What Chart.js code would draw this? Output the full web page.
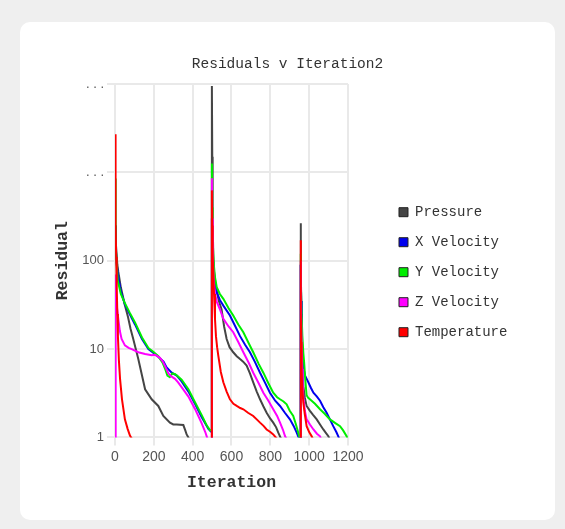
<!DOCTYPE html>
<html><head><meta charset="utf-8">
<script src="https://cdn.jsdelivr.net/npm/chart.js@4.4.1/dist/chart.umd.min.js"></script>
<style>
html,body{margin:0;padding:0;background:#efefef;width:565px;height:529px;overflow:hidden}
#card{position:absolute;left:20px;top:22px;width:535px;height:498px;background:#fff;border-radius:10px}
canvas{display:block}
</style></head><body>
<div id="card"><canvas id="c" width="535" height="498"></canvas></div>
<script>
// ---- data ----
const chartTitle = 'Residuals v Iteration2';
const xTitle = 'Iteration';
const yTitle = 'Residual';
const seriesNames = ['Pressure', 'X Velocity', 'Y Velocity', 'Z Velocity', 'Temperature'];
const seriesColors = ['#454545', '#0000ee', '#00ee00', '#ff00ff', '#ff0000'];
const xTickValues = [0, 200, 400, 600, 800, 1000, 1200];
const xTickLabels = ['0', '200', '400', '600', '800', '1000', '1200'];
const yTickValues = [1, 10, 100, 1000, 10000];
const yTickLabels = ['1', '10', '100', '. . .', '. . .'];

// [iteration, residual]
const pressure = [
  [0,250],[5,150],[12,90],[17,75],[30,50],[50,32],[67,23],[80,17],[94,13],[120,7.7],[155,3.5],[189,2.7],[223,2.27],[249,1.75],[283,1.47],[300,1.4],[318,1.4],[352,1.38],[362,1.2],[369,1.08],[378,1.0],[390,0.85],[498,0.5],
  [499,9500],[501,1500],[503,300],[506,120],[510,75],[520,50],[535,35],[549,28],[562,18],[575,13],[590,10.5],[609,9.2],[627,8.3],[644,7.7],[660,7.2],[678,6.5],[695,5.3],[712,4.2],[730,3.3],[747,2.7],[764,2.25],[781,1.9],[798,1.65],[815,1.47],[830,1.3],[841,1.13],[855,0.97],[870,0.8],[954,0.5],
  [956,265],[958,80],[960,25],[963,10],[966,5.5],[970,3.8],[978,2.8],[987,2.27],[1004,2.0],[1020,1.8],[1039,1.6],[1056,1.4],[1073,1.23],[1087,1.12],[1099,1.03],[1106,0.95],[1115,0.9]
];
const xVelocity = [
  [0,250],[3,150],[8,95],[15,70],[30,45],[51,32],[75,25],[103,19],[139,13],[172,10],[200,9],[223,8.2],[250,7.2],[266,6.2],[292,5.4],[318,5.0],[343,4.3],[378,3.3],[412,2.4],[446,1.7],[481,1.25],[497,1.15],
  [499,300],[502,150],[506,90],[512,62],[524,44],[540,36],[558,31],[592,24],[620,18],[644,14],[670,11.2],[695,9.2],[720,7.2],[747,5.4],[772,4.2],[798,3.2],[825,2.6],[850,2.27],[875,1.9],[901,1.6],[920,1.35],[936,1.13],[948,0.97],[954,0.8],
  [956,90],[959,35],[962,15],[966,8],[970,6.2],[979,5.0],[996,4.2],[1010,3.6],[1022,3.2],[1040,2.9],[1056,2.6],[1073,2.2],[1090,1.9],[1107,1.6],[1124,1.34],[1140,1.15],[1150,1.03],[1156,0.95],[1165,0.9]
];
const yVelocity = [
  [0,850],[2,350],[5,150],[9,90],[14,60],[30,42],[51,33],[75,26],[103,20],[139,13.5],[172,10.3],[200,9.2],[223,8.3],[245,7.0],[260,5.8],[270,5.0],[282,4.8],[295,5.3],[310,5.2],[325,4.9],[343,4.5],[378,3.5],[412,2.5],[446,1.8],[470,1.4],[481,1.28],[490,1.2],[497,1.22],
  [499,1260],[501,400],[504,160],[508,95],[515,65],[524,50],[540,42],[558,37],[585,29],[609,24],[635,19],[661,15.5],[690,11.5],[712,9.2],[740,6.8],[764,5.4],[790,4.1],[815,3.2],[835,2.85],[850,2.7],[868,2.55],[884,2.37],[900,2.0],[918,1.75],[932,1.4],[944,1.13],[951,0.98],[954,0.85],
  [956,120],[958,60],[961,25],[965,14],[970,9],[974,7.1],[980,4.5],[987,3.0],[995,2.8],[1004,2.7],[1030,2.4],[1056,2.08],[1080,1.85],[1107,1.6],[1135,1.45],[1159,1.34],[1175,1.2],[1193,1.03],[1199,0.96]
];
const zVelocity = [
  [0,0.5],[2,70],[5,45],[9,31],[17,22],[25,16],[34,13],[51,11],[70,10.3],[86,10],[120,9.2],[155,8.8],[189,8.5],[206,8.6],[230,8.0],[245,7.3],[258,6.4],[275,5.3],[290,4.9],[309,4.6],[325,4.2],[343,3.7],[378,2.9],[412,2.1],[446,1.45],[465,1.15],[474,1.0],[485,0.88],[498,0.6],
  [499,860],[501,300],[504,110],[508,60],[515,42],[525,34],[541,28],[558,22],[585,18],[609,15.5],[635,12],[661,9.2],[690,6.9],[712,5.4],[740,4.1],[764,3.2],[790,2.6],[815,2.08],[835,1.75],[850,1.47],[865,1.22],[876,1.03],[885,0.95],[954,0.5],
  [956,100],[958,35],[961,12],[964,6],[967,3.8],[970,2.9],[978,2.0],[987,1.6],[1004,1.4],[1022,1.23],[1040,1.1],[1056,1.03],[1062,0.95],[1070,0.9]
];
const temperature = [
  [0,2700],[2,700],[4,250],[6,110],[9,50],[12,25],[15,14],[20,7.5],[26,4.6],[36,2.7],[51,1.6],[65,1.25],[77,1.05],[85,0.98],[93,0.93],[120,0.7],[498,0.3],
  [499,625],[501,250],[503,120],[506,70],[510,42],[515,22],[520,14],[526,10.5],[532,8.4],[545,5.5],[558,4.2],[575,3.3],[592,2.7],[610,2.4],[627,2.27],[645,2.15],[661,2.08],[685,1.9],[712,1.75],[730,1.6],[747,1.47],[765,1.35],[781,1.23],[800,1.15],[815,1.08],[828,1.0],[840,0.93],[954,0.4],
  [956,170],[957,60],[958,25],[959,12],[961,6],[964,3.8],[970,2.47],[978,1.8],[987,1.34],[1000,1.15],[1013,1.03],[1020,0.95],[1030,0.9]
];
const seriesData = [pressure, xVelocity, yVelocity, zVelocity, temperature];

// ---- chart ----
const mono = "'Liberation Mono', 'DejaVu Sans Mono', monospace";
const sans = "'Liberation Sans', Arial, sans-serif";
const gridColor = '#e9e9e9';

new Chart(document.getElementById('c'), {
  type: 'line',
  data: {
    datasets: seriesNames.map((name, i) => ({
      label: name,
      data: seriesData[i].map(p => ({x: p[0], y: p[1]})),
      borderColor: seriesColors[i],
      backgroundColor: seriesColors[i],
      borderWidth: 2,
      pointRadius: 0,
      tension: 0,
      xAxisID: 'x',
      yAxisID: 'y',
      order: seriesNames.length - 1 - i
    }))
  },
  options: {
    responsive: false,
    animation: false,
    layout: {padding: {left: 0, right: 0, top: 0, bottom: 23.4}},
    plugins: {
      tooltip: {enabled: false},
      title: {
        display: true, text: chartTitle, color: '#333',
        font: {family: mono, size: 14.5, weight: 'normal'},
        padding: {top: 33.3, bottom: 11.3}
      },
      legend: {
        position: 'right', align: 'center', fullSize: false, maxWidth: 300,
        title: {display: true, text: ' ', font: {size: 10}, padding: 5.5},
        labels: {
          boxWidth: 9, boxHeight: 9, padding: 16, color: '#333',
          font: {family: mono, size: 14},
          sort: (a, b) => a.datasetIndex - b.datasetIndex,
          generateLabels: (chart) => Chart.defaults.plugins.legend.labels.generateLabels(chart).map(l => Object.assign(l, {
            fillStyle: seriesColors[l.datasetIndex], strokeStyle: '#222', lineWidth: 1
          }))
        }
      }
    },
    scales: {
      x: {
        type: 'linear', min: 0, max: 1200,
        afterBuildTicks: s => { s.ticks = xTickValues.map(v => ({value: v})); },
        ticks: {callback: (v, i) => xTickLabels[i], color: '#555', font: {family: sans, size: 14}, maxRotation: 0, autoSkip: false},
        grid: {color: gridColor, lineWidth: 2, tickLength: 8},
        border: {color: gridColor, width: 2},
        title: {display: true, text: xTitle, color: '#333', font: {family: mono, size: 16.5, weight: 'bold'}, padding: {top: 4.6, bottom: 4}}
      },
      y: {
        type: 'logarithmic', min: 1, max: 10000,
        afterBuildTicks: s => { s.ticks = yTickValues.map(v => ({value: v})); },
        afterFit: s => { s.width = 95; },
        ticks: {callback: (v, i) => yTickLabels[i], color: '#555', font: {family: sans, size: 13}, autoSkip: false},
        grid: {color: gridColor, lineWidth: 2, tickLength: 8},
        border: {color: gridColor, width: 2},
        title: {display: true, text: yTitle, color: '#333', font: {family: mono, size: 16.5, weight: 'bold'}, padding: {top: 33.2, bottom: 0}}
      },
      yGap: {
        type: 'linear', position: 'right', display: true, weight: 0,
        grid: {display: false}, border: {display: false}, ticks: {display: false},
        afterFit: s => { s.width = 35; }
      },
      yEdge: {
        type: 'linear', position: 'right', display: true, weight: 2000,
        grid: {display: false}, border: {display: false}, ticks: {display: false},
        afterFit: s => { s.width = 37.6; }
      }
    }
  }
});
</script>
</body></html>
